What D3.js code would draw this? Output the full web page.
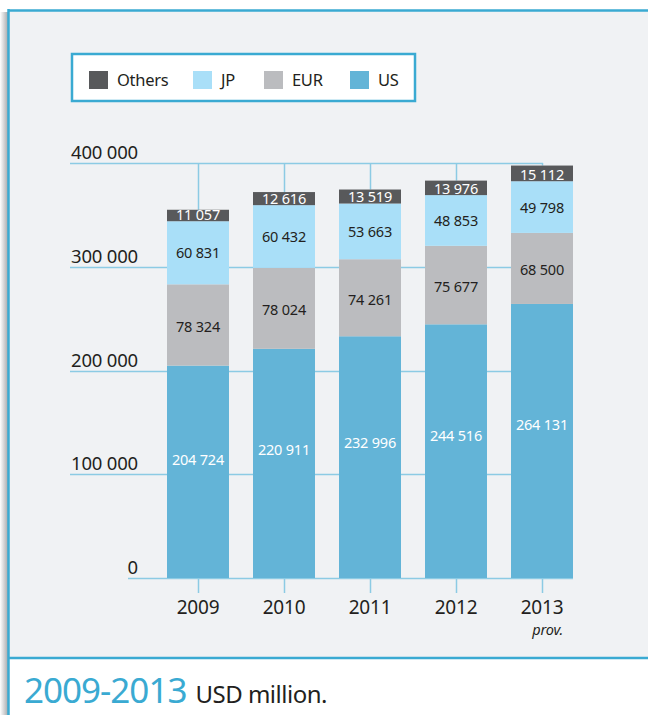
<!DOCTYPE html>
<html>
<head>
<meta charset="utf-8">
<script src="https://cdn.jsdelivr.net/npm/d3@7"></script>
<style>
  html, body { margin: 0; padding: 0; background: #ffffff; }
  svg { display: block; font-family: "Noto Sans", "Open Sans", sans-serif; }
</style>
</head>
<body>
<svg id="chart" width="648" height="715"></svg>
<script>
// Annual values, USD million
const years = ["2009", "2010", "2011", "2012", "2013"];
const usValues = [204724, 220911, 232996, 244516, 264131];
const eurValues = [78324, 78024, 74261, 75677, 68500];
const jpValues = [60831, 60432, 53663, 48853, 49798];
const othersValues = [11057, 12616, 13519, 13976, 15112];
const yTicks = [0, 100000, 200000, 300000, 400000];
const seriesNames = ["US", "EUR", "JP", "Others"];
const legendOrder = ["Others", "JP", "EUR", "US"];

const colors = { US: "#63b4d7", EUR: "#bbbcbf", JP: "#a9dff8", Others: "#58595b" };
const textColors = { US: "#ffffff", EUR: "#231f20", JP: "#231f20", Others: "#ffffff" };
const accent = "#3aaad2";
const gridColor = "#8ccbe4";
const ink = "#231f20";

const fmt = v => d3.format(",")(v).replace(/,/g, " ");

const svg = d3.select("#chart");

// Panel background, shadow and frame
const defs = svg.append("defs");
const grad = defs.append("linearGradient").attr("id", "shadow").attr("x1", 0).attr("x2", 1);
grad.append("stop").attr("offset", 0).attr("stop-color", "#ffffff");
grad.append("stop").attr("offset", 1).attr("stop-color", "#a7a9ac");
svg.append("rect").attr("x", 0).attr("y", 12).attr("width", 8).attr("height", 703).attr("fill", "url(#shadow)");
svg.append("rect").attr("x", 8).attr("y", 10).attr("width", 640).attr("height", 648).attr("fill", "#f0f2f4");
svg.append("line").attr("x1", 8).attr("x2", 648).attr("y1", 10.5).attr("y2", 10.5).attr("stroke", accent).attr("stroke-width", 2.5);
svg.append("line").attr("x1", 8.5).attr("x2", 8.5).attr("y1", 9).attr("y2", 715).attr("stroke", accent).attr("stroke-width", 2.5);
svg.append("line").attr("x1", 8).attr("x2", 648).attr("y1", 658).attr("y2", 658).attr("stroke", accent).attr("stroke-width", 2.5);

// Scales
const x = d3.scaleBand().domain(years).range([155, 585]).paddingInner(24 / 86).paddingOuter(12 / 86);
const y = d3.scaleLinear().domain([0, 400000]).range([578, 163]);

// Stack the series
const rows = years.map((yr, i) => ({
  year: yr, US: usValues[i], EUR: eurValues[i], JP: jpValues[i], Others: othersValues[i]
}));
const stacked = d3.stack().keys(seriesNames)(rows);

const cx = yr => x(yr) + x.bandwidth() / 2;
const lastCenter = cx(years[years.length - 1]);

// Gridlines with value labels above them
const grid = svg.append("g");
yTicks.forEach(t => {
  const yy = Math.round(y(t)) + 0.5;
  grid.append("line")
    .attr("x1", t === 0 ? 128 : 70).attr("x2", t === 0 ? x(years[4]) + x.bandwidth() : lastCenter + 1)
    .attr("y1", yy).attr("y2", yy)
    .attr("stroke", gridColor).attr("stroke-width", 1.5);
  grid.append("text")
    .attr("x", 138).attr("y", yy - 5)
    .attr("text-anchor", "end")
    .attr("font-size", 18.5).attr("fill", ink)
    .attr("letter-spacing", -0.2)
    .text(t === 0 ? "0" : fmt(t));
});

// Connectors from the top gridline to each bar, and ticks under the baseline
const totals = rows.map(r => r.US + r.EUR + r.JP + r.Others);
years.forEach((yr, i) => {
  const xx = Math.round(cx(yr)) + 0.5;
  grid.append("line")
    .attr("x1", xx).attr("x2", xx)
    .attr("y1", y(400000)).attr("y2", y(totals[i]))
    .attr("stroke", gridColor).attr("stroke-width", 1.5);
  grid.append("line")
    .attr("x1", xx).attr("x2", xx)
    .attr("y1", y(0)).attr("y2", y(0) + 15)
    .attr("stroke", gridColor).attr("stroke-width", 1.5);
});

// Bars
const layers = svg.append("g").selectAll("g").data(stacked).join("g")
  .attr("fill", d => colors[d.key]);
layers.selectAll("rect").data(d => d).join("rect")
  .attr("x", d => x(d.data.year))
  .attr("width", x.bandwidth())
  .attr("y", d => y(d[1]))
  .attr("height", d => y(d[0]) - y(d[1]));

// Segment value labels: the thin top segment carries its label on its lower edge,
// the base segment's label sits a little above its middle
const labelY = (key, d) => {
  const top = y(d[1]), bottom = y(d[0]);
  if (key === "Others") return bottom - 1.5;
  if (key === "US") return bottom - 0.56 * (bottom - top) + 5.5;
  if (key === "EUR") return (top + bottom) / 2 + 7;
  return (top + bottom) / 2 + 5.5;
};
stacked.forEach(layer => {
  svg.append("g").selectAll("text").data(layer).join("text")
    .attr("x", d => cx(d.data.year))
    .attr("y", d => labelY(layer.key, d))
    .attr("text-anchor", "middle")
    .attr("font-size", 14.5)
    .attr("letter-spacing", -0.2)
    .attr("fill", textColors[layer.key])
    .text(d => fmt(d.data[layer.key]));
});

// Category labels
svg.append("g").selectAll("text").data(years).join("text")
  .attr("x", d => cx(d)).attr("y", 614)
  .attr("text-anchor", "middle")
  .attr("font-size", 19).attr("fill", ink)
  .attr("letter-spacing", -0.2)
  .text(d => d);
svg.append("text")
  .attr("x", cx(years[4]) + 21).attr("y", 635)
  .attr("text-anchor", "end")
  .attr("font-size", 14.5).attr("font-style", "italic").attr("fill", ink)
  .attr("letter-spacing", -0.2)
  .text("prov.");

// Legend
const legend = svg.append("g");
legend.append("rect").attr("x", 72).attr("y", 54).attr("width", 343).attr("height", 47)
  .attr("fill", "#ffffff").attr("stroke", accent).attr("stroke-width", 2.5);
const legendX = { Others: 89, JP: 193, EUR: 264, US: 350 };
legendOrder.forEach(k => {
  legend.append("rect").attr("x", legendX[k]).attr("y", 71).attr("width", 19).attr("height", 18)
    .attr("fill", colors[k]);
  legend.append("text").attr("x", legendX[k] + 28).attr("y", 86)
    .attr("font-size", 16.5).attr("fill", ink).attr("letter-spacing", -0.3)
    .text(k);
});

// Caption
const cap = svg.append("text").attr("x", 24).attr("y", 703);
cap.append("tspan").attr("font-size", 35).attr("fill", accent).attr("letter-spacing", -1).text("2009-2013");
cap.append("tspan").attr("font-size", 24).attr("fill", ink).attr("dx", 9).attr("letter-spacing", -0.5).text("USD million.");
</script>
</body>
</html>
